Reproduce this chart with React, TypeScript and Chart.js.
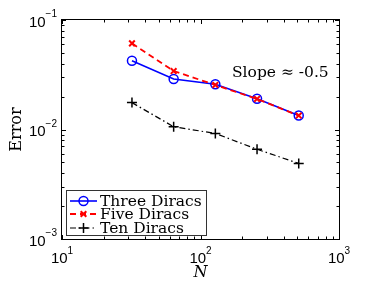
import React, { useEffect, useRef } from 'react';
import { Chart, registerables } from 'chart.js';

Chart.register(...registerables);

const nValues = [32, 64, 128, 256, 512];
const threeDiracs = [0.0425, 0.0289, 0.0259, 0.0191, 0.0134];
const fiveDiracs = [0.0612, 0.0342, 0.0255, 0.019, 0.0134];
const tenDiracs = [0.0176, 0.0106, 0.0092, 0.0066, 0.0049];
const seriesLabels = ['Three Diracs', 'Five Diracs', 'Ten Diracs'];
const xTickExps = [1, 2, 3];
const yTickExps = [-3, -2, -1];
const annotationText = 'Slope ≈ -0.5';
const xTitle = 'N';
const yTitle = 'Error';

const SERIF = '"DejaVu Serif", serif';
const SANS = '"Liberation Sans", Arial, sans-serif';

type Style = { color: string; dash: number[]; width: number; point: string; radius: number; pw: number };
const styles: Style[] = [
  { color: '#0000ff', dash: [], width: 1.6, point: 'circle', radius: 4.5, pw: 1.5 },
  { color: '#ff0000', dash: [6, 4], width: 1.8, point: 'crossRot', radius: 4, pw: 2 },
  { color: '#000000', dash: [6, 3, 1.5, 3], width: 1.2, point: 'cross', radius: 5, pw: 1.5 },
];

function drawMarker(ctx: CanvasRenderingContext2D, s: Style, x: number, y: number) {
  ctx.save();
  ctx.setLineDash([]);
  ctx.strokeStyle = s.color;
  ctx.lineWidth = s.pw;
  ctx.beginPath();
  if (s.point === 'circle') {
    ctx.arc(x, y, s.radius, 0, Math.PI * 2);
  } else if (s.point === 'crossRot') {
    const r = s.radius * Math.SQRT1_2;
    ctx.moveTo(x - r, y - r); ctx.lineTo(x + r, y + r);
    ctx.moveTo(x + r, y - r); ctx.lineTo(x - r, y + r);
  } else {
    const r = s.radius;
    ctx.moveTo(x - r, y); ctx.lineTo(x + r, y);
    ctx.moveTo(x, y - r); ctx.lineTo(x, y + r);
  }
  ctx.stroke();
  ctx.restore();
}

function powParts(e: number) {
  return { base: '10', exp: e < 0 ? '\u2212' + Math.abs(e) : String(e) };
}

const decorPlugin = {
  id: 'decor',
  afterDraw(chart: any) {
    const ctx: CanvasRenderingContext2D = chart.ctx;
    const xs = chart.scales.x;
    const ys = chart.scales.y;
    const { left, right, top, bottom } = chart.chartArea;
    ctx.save();
    // ticks
    ctx.strokeStyle = '#000';
    ctx.lineWidth = 1;
    ctx.beginPath();
    for (let e = xTickExps[0]; e <= xTickExps[xTickExps.length - 1]; e++) {
      for (let k = 1; k <= 9; k++) {
        const v = k * Math.pow(10, e);
        if (v > xs.max * 1.0001) break;
        const px = Math.round(xs.getPixelForValue(v)) + 0.5;
        const L = k === 1 ? 4 : 2.5;
        ctx.moveTo(px, bottom); ctx.lineTo(px, bottom - L);
        ctx.moveTo(px, top); ctx.lineTo(px, top + L);
      }
    }
    for (let e = yTickExps[0]; e <= yTickExps[yTickExps.length - 1]; e++) {
      for (let k = 1; k <= 9; k++) {
        const v = k * Math.pow(10, e);
        if (v > ys.max * 1.0001) break;
        const py = Math.round(ys.getPixelForValue(v)) + 0.5;
        const L = k === 1 ? 4 : 2.5;
        ctx.moveTo(left, py); ctx.lineTo(left + L, py);
        ctx.moveTo(right, py); ctx.lineTo(right - L, py);
      }
    }
    ctx.stroke();
    // frame
    ctx.strokeRect(left - 0.5, top - 0.5, right - left + 1, bottom - top + 1);

    // tick labels
    ctx.fillStyle = '#000';
    ctx.textBaseline = 'alphabetic';
    ctx.textAlign = 'left';
    for (const e of yTickExps) {
      const py = ys.getPixelForValue(Math.pow(10, e));
      const { base, exp } = powParts(e);
      ctx.font = `15px ${SANS}`;
      const w1 = ctx.measureText(base).width;
      ctx.font = `10px ${SANS}`;
      const w2 = ctx.measureText(exp).width;
      const rightEdge = left - 5;
      ctx.fillText(exp, rightEdge - w2, py - 3);
      ctx.font = `15px ${SANS}`;
      ctx.fillText(base, rightEdge - w2 - w1, py + 6.5);
    }
    for (const e of xTickExps) {
      const px = xs.getPixelForValue(Math.pow(10, e));
      const { base, exp } = powParts(e);
      ctx.font = `15px ${SANS}`;
      const w1 = ctx.measureText(base).width;
      ctx.font = `10px ${SANS}`;
      const w2 = ctx.measureText(exp).width;
      const x0 = px - (w1 + w2) / 2;
      ctx.font = `15px ${SANS}`;
      ctx.fillText(base, x0, bottom + 24);
      ctx.font = `10px ${SANS}`;
      ctx.fillText(exp, x0 + w1, bottom + 15);
    }

    // annotation
    ctx.font = `15.5px ${SERIF}`;
    ctx.fillText(annotationText, xs.getPixelForValue(10) + 170, ys.getPixelForValue(0.1) + 56.5);

    // legend
    const lx = left + 4, ly = bottom - 49, lw = 140, lh = 45;
    ctx.fillStyle = '#fff';
    ctx.fillRect(lx, ly, lw, lh);
    ctx.strokeStyle = '#333';
    ctx.lineWidth = 1;
    ctx.strokeRect(lx + 0.5, ly + 0.5, lw, lh);
    const rows = [ly + 11, ly + 24, ly + 38];
    seriesLabels.forEach((lab, i) => {
      const s = styles[i];
      const ry = rows[i];
      ctx.save();
      ctx.strokeStyle = s.color;
      ctx.lineWidth = s.width;
      ctx.setLineDash(s.dash);
      ctx.beginPath();
      ctx.moveTo(lx + 4, ry); ctx.lineTo(lx + 31, ry);
      ctx.stroke();
      ctx.restore();
      drawMarker(ctx, s, lx + 17.5, ry);
      ctx.fillStyle = '#000';
      ctx.font = `15.5px ${SERIF}`;
      ctx.fillText(lab, lx + 34, ry + 4.5);
    });
    ctx.restore();
  },
};

export default function App() {
  const ref = useRef<HTMLCanvasElement | null>(null);
  useEffect(() => {
    if (!ref.current) return;
    const series = [threeDiracs, fiveDiracs, tenDiracs];
    const chart = new Chart(ref.current, {
      type: 'line',
      data: {
        datasets: series.map((vals, i) => ({
          label: seriesLabels[i],
          data: nValues.map((n, j) => ({ x: n, y: vals[j] })),
          borderColor: styles[i].color,
          backgroundColor: 'transparent',
          borderWidth: styles[i].width,
          borderDash: styles[i].dash,
          pointStyle: styles[i].point as any,
          pointRadius: styles[i].radius,
          pointBorderWidth: styles[i].pw,
          pointBorderColor: styles[i].color,
          pointBackgroundColor: 'transparent',
          tension: 0,
          fill: false,
          order: i === 0 ? 1 : i === 1 ? 0 : 2,
        })),
      },
      options: {
        animation: false,
        responsive: true,
        maintainAspectRatio: false,
        layout: { padding: { top: 20, right: 35, left: 0, bottom: 0 } },
        plugins: { legend: { display: false }, tooltip: { enabled: false } },
        scales: {
          x: {
            type: 'logarithmic',
            min: 10,
            max: 1000,
            grid: { display: false },
            border: { display: false },
            ticks: { display: false },
            title: {
              display: true,
              text: xTitle,
              color: '#000',
              font: { family: SERIF, size: 16, style: 'italic', lineHeight: 1 },
              padding: { top: 0, bottom: 0 },
            },
            afterFit: (s: any) => { s.height = 42; },
          },
          y: {
            type: 'logarithmic',
            min: 0.001,
            max: 0.1,
            grid: { display: false },
            border: { display: false },
            ticks: { display: false },
            title: {
              display: true,
              text: yTitle,
              color: '#000',
              font: { family: SERIF, size: 16, lineHeight: 1 },
              padding: { top: 9, bottom: 0 },
            },
            afterFit: (s: any) => { s.width = 62; },
          },
        },
      },
      plugins: [decorPlugin],
    });
    return () => chart.destroy();
  }, []);
  return (
    <div style={{ position: 'fixed', left: 0, top: 0, width: 374, height: 281, background: '#fff' }}>
      <canvas ref={ref} />
    </div>
  );
}
